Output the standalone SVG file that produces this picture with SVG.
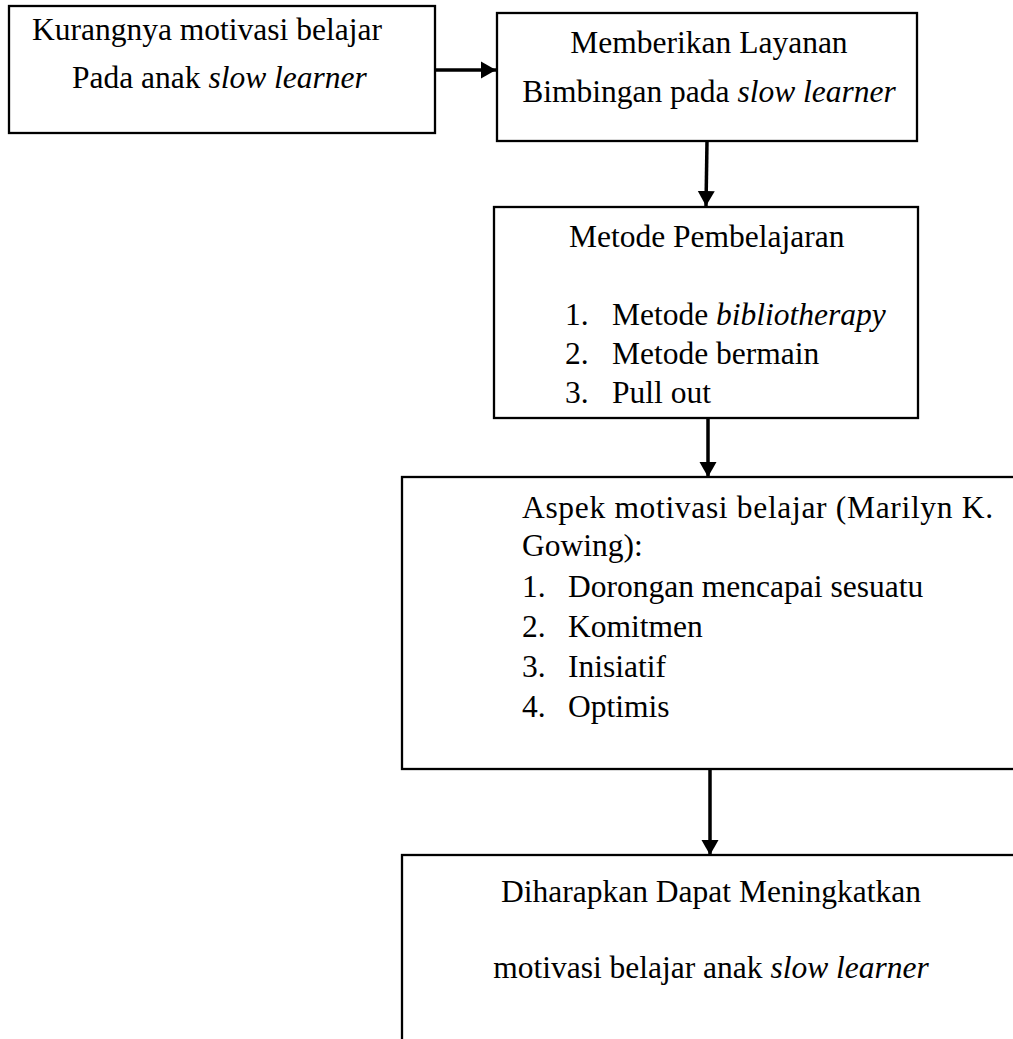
<svg xmlns="http://www.w3.org/2000/svg" width="1013" height="1039" viewBox="0 0 1013 1039">
<style>
.box{fill:#fff;stroke:#000;stroke-width:2.3}
.t{font-family:"Liberation Serif","Times New Roman",serif;font-size:31.5px;fill:#000}
.i{font-style:italic}
.c{text-anchor:middle}
.conn{stroke:#000;stroke-width:3.5;fill:none}
</style>
<defs>
<marker id="ah" markerUnits="userSpaceOnUse" markerWidth="17" markerHeight="18" refX="15" refY="9" orient="auto">
<path d="M0,0.5 L15,9 L0,17.5 Z" fill="#000"/>
</marker>
</defs>
<rect width="1013" height="1039" fill="#fff"/>
<g id="connectors">
<line class="conn" x1="436" y1="70" x2="496" y2="70" marker-end="url(#ah)"/>
<line class="conn" x1="707" y1="141" x2="706" y2="206" marker-end="url(#ah)"/>
<line class="conn" x1="708" y1="419" x2="708" y2="477" marker-end="url(#ah)"/>
<line class="conn" x1="710" y1="770" x2="710" y2="855" marker-end="url(#ah)"/>
</g>
<g id="node-kurangnya">
<rect class="box" x="9" y="6" width="426" height="127"/>
<text class="t" x="32" y="40">Kurangnya motivasi belajar</text>
<text class="t" x="72" y="88">Pada anak <tspan class="i">slow learner</tspan></text>
</g>
<g id="node-layanan">
<rect class="box" x="497" y="13" width="420" height="128"/>
<text class="t c" x="709" y="53">Memberikan Layanan</text>
<text class="t c" x="709" y="102">Bimbingan pada <tspan class="i">slow learner</tspan></text>
</g>
<g id="node-metode">
<rect class="box" x="494" y="207" width="424" height="211"/>
<text class="t" x="569" y="247">Metode Pembelajaran</text>
<text class="t" x="565" y="325">1.</text><text class="t" x="612" y="325">Metode <tspan class="i">bibliotherapy</tspan></text>
<text class="t" x="565" y="364">2.</text><text class="t" x="612" y="364">Metode bermain</text>
<text class="t" x="565" y="403">3.</text><text class="t" x="612" y="403">Pull out</text>
</g>
<g id="node-aspek">
<rect class="box" x="402" y="477" width="620" height="292"/>
<text class="t" x="522" y="518" textLength="471" lengthAdjust="spacing">Aspek motivasi belajar (Marilyn K.</text>
<text class="t" x="522" y="556">Gowing):</text>
<text class="t" x="522" y="597">1.</text><text class="t" x="568" y="597">Dorongan mencapai sesuatu</text>
<text class="t" x="522" y="637">2.</text><text class="t" x="568" y="637">Komitmen</text>
<text class="t" x="522" y="677">3.</text><text class="t" x="568" y="677">Inisiatif</text>
<text class="t" x="522" y="717">4.</text><text class="t" x="568" y="717">Optimis</text>
</g>
<g id="node-diharapkan">
<rect class="box" x="402" y="855" width="620" height="200"/>
<text class="t c" x="711" y="902">Diharapkan Dapat Meningkatkan</text>
<text class="t c" x="711" y="978">motivasi belajar anak <tspan class="i">slow learner</tspan></text>
</g>
</svg>
